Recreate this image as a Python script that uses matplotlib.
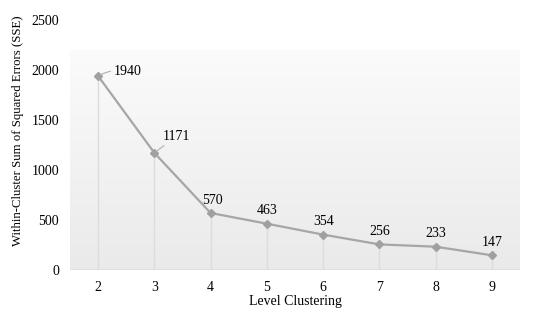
import matplotlib
matplotlib.use("Agg")
import matplotlib.pyplot as plt
import numpy as np
from matplotlib.colors import LinearSegmentedColormap

clusters = [2, 3, 4, 5, 6, 7, 8, 9]
sse = [1940, 1171, 570, 463, 354, 256, 233, 147]
yticks = [0, 500, 1000, 1500, 2000, 2500]

plt.rcParams['font.family'] = ['Liberation Serif', 'DejaVu Serif']

fig = plt.figure(figsize=(5.5, 3.21), dpi=100)
ax = fig.add_axes([70/550, 1-270/321, 450/550, 250/321])
ax.set_xlim(1.5, 9.5)
ax.set_ylim(0, 2500)

# gradient panel
grad = np.linspace(0, 1, 256).reshape(-1, 1)
cmap = LinearSegmentedColormap.from_list('g', ['#eaeaea', '#fbfbfb'])
ax.imshow(grad, cmap=cmap, aspect='auto', extent=[1.5, 9.5, 0, 2200],
          origin='lower', zorder=0)
ax.axhline(0, color='#e0e0e0', lw=1.5, zorder=1)

# drop lines
for x, y in zip(clusters, sse):
    ax.plot([x, x], [0, y], color='#dcdcdc', lw=1, zorder=1)

ax.plot(clusters, sse, color='#a6a6a6', lw=1.6, marker='D', ms=4,
        mfc='#a0a0a0', mec='#a0a0a0', zorder=3)

for i, (x, y) in enumerate(zip(clusters, sse)):
    if i == 0:
        ax.annotate(str(y), xy=(x, y), xytext=(11, 3), textcoords='offset points',
                    ha='left', va='center', fontsize=10,
                    arrowprops=dict(arrowstyle='-', color='#b0b0b0', lw=0.8,
                                    connectionstyle='arc3,rad=0.2',
                                    shrinkA=0, shrinkB=2))
    elif i == 1:
        ax.annotate(str(y), xy=(x, y), xytext=(6, 12), textcoords='offset points',
                    ha='left', va='center', fontsize=10,
                    arrowprops=dict(arrowstyle='-', color='#b0b0b0', lw=0.8,
                                    shrinkA=0, shrinkB=2))
    elif i == 2:
        ax.annotate(str(y), xy=(x, y), xytext=(1, 9), textcoords='offset points',
                    ha='center', va='center', fontsize=10)
    else:
        ax.annotate(str(y), xy=(x, y), xytext=(0, 9.5), textcoords='offset points',
                    ha='center', va='center', fontsize=10)

ax.set_xticks(clusters)
ax.set_yticks(yticks)
ax.tick_params(length=0, labelsize=10, pad=8)
for s in ax.spines.values():
    s.set_visible(False)
ax.set_facecolor('white')

ax.set_xlabel('Level Clustering', fontsize=10, labelpad=1)
ax.set_ylabel('Within-Cluster Sum of Squared Errors (SSE)', fontsize=9.2,
              va='center')
ax.yaxis.set_label_coords(-0.116, 0.556)

fig.savefig('out.png', dpi=100)
